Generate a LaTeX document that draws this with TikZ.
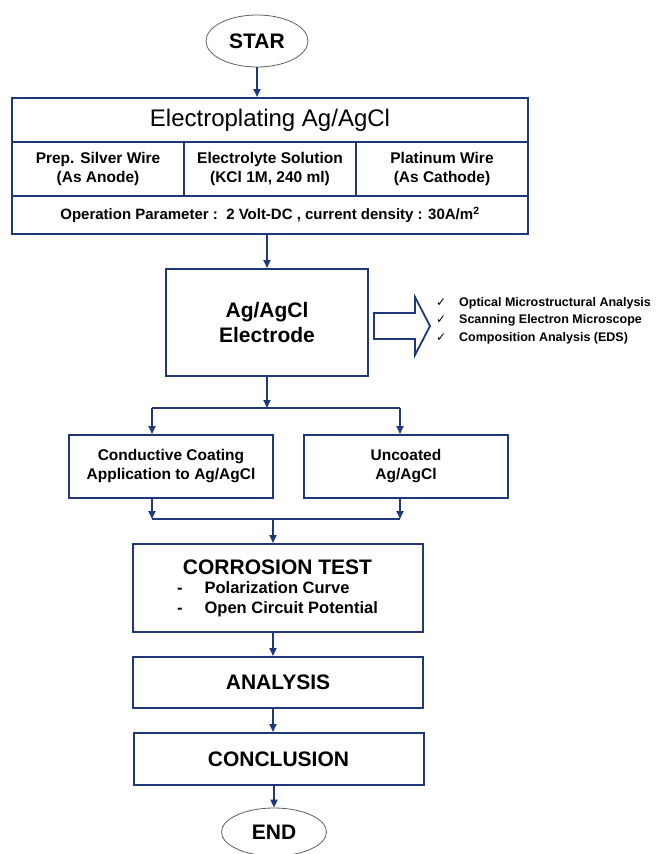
\documentclass[tikz,border=0pt]{standalone}
\usepackage{fontspec}
\setmainfont{Liberation Sans}
\newfontfamily\checkfont{DejaVu Sans}
\usepackage{xcolor}
\usepackage{tikz}
\usetikzlibrary{shapes.geometric,arrows.meta,positioning,calc}

\definecolor{flowblue}{RGB}{31,56,122}
\newcommand{\chk}{\makebox[23pt][l]{\checkfont\mdseries\fontsize{12}{12}\selectfont ✓}}

\begin{document}
\begin{tikzpicture}[
    x = 1pt, y = -1pt,
    box/.style = {rectangle, draw=flowblue, line width=2pt, align=center, inner sep=2pt},
    cell_box/.style = {box, minimum width=172pt, minimum height=54pt, font=\fontsize{15.5}{19}\selectfont\bfseries},
    branch_box/.style = {box, minimum width=204pt, minimum height=63pt, font=\fontsize{15.5}{19}\selectfont\bfseries},
    step_box/.style = {box, minimum width=290pt, font=\fontsize{21}{25}\selectfont\bfseries},
    terminal/.style = {ellipse, draw=gray!75!black, line width=0.8pt, inner sep=0pt, font=\fontsize{21}{25}\selectfont\bfseries},
    arrow/.style = {flowblue, line width=1.8pt, -{Triangle[length=8pt,width=7pt]}},
    line/.style = {flowblue, line width=1.8pt}
]
\useasboundingbox (0,0) rectangle (661,854);

% Start
\node [terminal, minimum width=102pt, minimum height=52pt] (star) at (257,41) {STAR};

% Electroplating block
\node [box, minimum width=516pt, minimum height=44pt, font=\fontsize{24}{28}\selectfont] (plate) at (270,120) {Electroplating Ag/AgCl};
\node [cell_box] (anode) at (98,169) {Prep. Silver Wire\\(As Anode)};
\node [cell_box] (solution) at (270,169) {Electrolyte Solution\\(KCl 1M, 240 ml)};
\node [cell_box] (cathode) at (442,169) {Platinum Wire\\(As Cathode)};
\node [box, minimum width=516pt, minimum height=38pt, font=\fontsize{15}{18}\selectfont\bfseries] (param) at (270,215) {Operation Parameter :\ \ 2 Volt-DC , current density : 30A/m\textsuperscript{2}};

% Electrode
\node [box, minimum width=202pt, minimum height=107pt, font=\fontsize{21}{25}\selectfont\bfseries] (elec) at (267,322.5) {Ag/AgCl\\Electrode};
\draw [flowblue, line width=1.8pt] (374,313) -- (415,313) -- (415,297) -- (430,326) -- (415,355) -- (415,339) -- (374,339) -- cycle;
\node [anchor=west, align=left, inner sep=0pt, font=\fontsize{12.5}{17.5}\selectfont\bfseries] (checks) at (436,320.5)
    {\chk Optical Microstructural Analysis\\\chk Scanning Electron Microscope\\\chk Composition Analysis (EDS)};

% Branches
\node [branch_box] (coated) at (171,466.5) {Conductive Coating\\Application to Ag/AgCl};
\node [branch_box] (uncoated) at (406,466.5) {Uncoated\\Ag/AgCl};
\coordinate (split) at (267,408);
\coordinate (splitL) at (152,408);
\coordinate (splitR) at (400,408);
\coordinate (joinL) at (152,519);
\coordinate (joinR) at (400,519);
\coordinate (join) at (273,519);

% Test and closing steps
\node [step_box, minimum height=88pt] (corr) at (277.5,588)
    {\begin{tabular}{@{}c@{}}CORROSION TEST\\[-3pt]
     \fontsize{16.5}{20}\selectfont
     \begin{tabular}{@{}l@{\hspace{22pt}}l@{}}-&Polarization Curve\\-&Open Circuit Potential\end{tabular}\end{tabular}};
\node [step_box, minimum height=51pt] (ana) at (278,682.5) {ANALYSIS};
\node [step_box, minimum height=52pt] (concl) at (278.5,759) {CONCLUSION};
\node [terminal, minimum width=105pt, minimum height=48pt] (end) at (274,832) {END};

% Arrows
\draw [arrow] (star) -- (star |- plate.north);
\draw [arrow] (elec.north |- param.south) -- (elec.north);
\draw [arrow] (elec.south) -- (split);
\draw [line] (splitL) -- (splitR);
\draw [arrow] (splitL) -- (splitL |- coated.north);
\draw [arrow] (splitR) -- (splitR |- uncoated.north);
\draw [arrow] (joinL |- coated.south) -- (joinL);
\draw [arrow] (joinR |- uncoated.south) -- (joinR);
\draw [line] (joinL) -- (joinR);
\draw [arrow] (join) -- (join |- corr.north);
\draw [arrow] (join |- corr.south) -- (join |- ana.north);
\draw [arrow] (join |- ana.south) -- (join |- concl.north);
\draw [arrow] (concl.south -| end) -- (end.north);

\end{tikzpicture}
\end{document}
